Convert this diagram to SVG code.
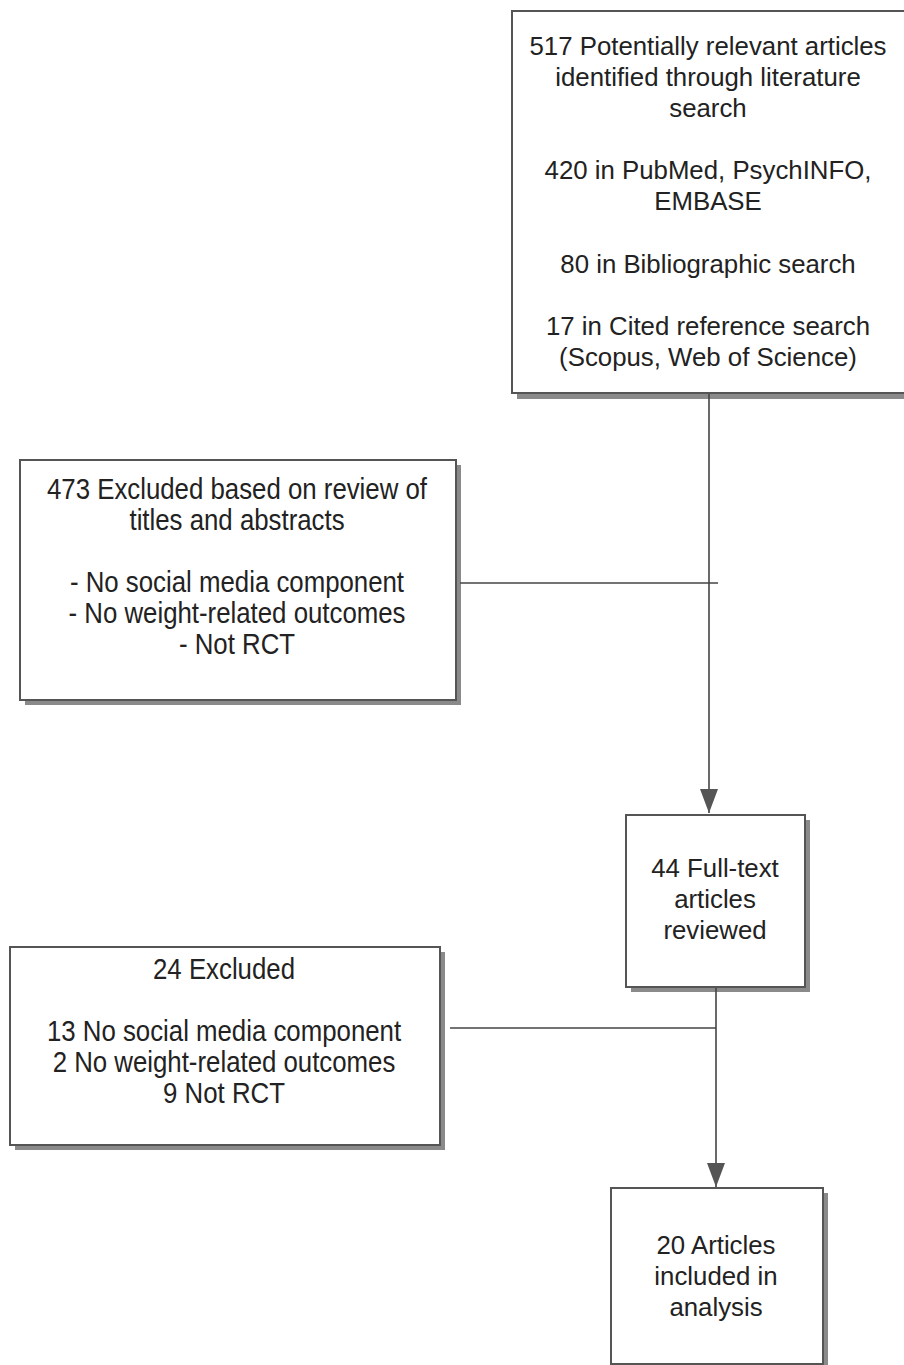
<svg xmlns="http://www.w3.org/2000/svg" width="904" height="1365" viewBox="0 0 904 1365">
<defs>
<marker id="arr" markerWidth="24" markerHeight="18" refX="24" refY="9" orient="auto" markerUnits="userSpaceOnUse" viewBox="0 0 24 18">
<path d="M0,0 L24,9 L0,18 Z" fill="#555"/>
</marker>
</defs>
<style>
.box{fill:#fff;stroke:#555;stroke-width:2}
.sh{fill:#8a8a8a}
.t{font-family:"Liberation Sans",Arial,sans-serif;font-size:25.8px;fill:#222;text-anchor:middle}
.n{font-family:"Liberation Sans",Arial,sans-serif;font-size:29px;fill:#222;text-anchor:middle}
.c{stroke:#444;stroke-width:1.6;fill:none}
</style>
<rect width="904" height="1365" fill="#fff"/>
<g id="n1">
<rect class="sh" x="517" y="16" width="392" height="383"/>
<rect class="box" x="512" y="11" width="394" height="382"/>
<text class="t" x="708" y="55">517 Potentially relevant articles</text>
<text class="t" x="708" y="86">identified through literature</text>
<text class="t" x="708" y="117">search</text>
<text class="t" x="708" y="179">420 in PubMed, PsychINFO,</text>
<text class="t" x="708" y="210">EMBASE</text>
<text class="t" x="708" y="273">80 in Bibliographic search</text>
<text class="t" x="708" y="335">17 in Cited reference search</text>
<text class="t" x="708" y="366">(Scopus, Web of Science)</text>
</g>
<g id="n2">
<rect class="sh" x="25" y="465" width="436" height="240"/>
<rect class="box" x="20" y="460" width="436" height="240"/>
<g transform="translate(237,0) scale(0.89,1)">
<text class="n" x="0" y="499">473 Excluded based on review of</text>
<text class="n" x="0" y="530">titles and abstracts</text>
<text class="n" x="0" y="592">- No social media component</text>
<text class="n" x="0" y="623">- No weight-related outcomes</text>
<text class="n" x="0" y="654">- Not RCT</text>
</g>
</g>
<g id="n3">
<rect class="sh" x="631" y="820" width="179" height="172"/>
<rect class="box" x="626" y="815" width="179" height="172"/>
<text class="t" x="715" y="877">44 Full-text</text>
<text class="t" x="715" y="908">articles</text>
<text class="t" x="715" y="939">reviewed</text>
</g>
<g id="n4">
<rect class="sh" x="15" y="952" width="430" height="198"/>
<rect class="box" x="10" y="947" width="430" height="198"/>
<g transform="translate(224,0) scale(0.89,1)">
<text class="n" x="0" y="979">24 Excluded</text>
<text class="n" x="0" y="1041">13 No social media component</text>
<text class="n" x="0" y="1072">2 No weight-related outcomes</text>
<text class="n" x="0" y="1103">9 Not RCT</text>
</g>
</g>
<g id="n5">
<rect class="sh" x="616" y="1193" width="212" height="180"/>
<rect class="box" x="611" y="1188" width="212" height="176"/>
<text class="t" x="716" y="1254">20 Articles</text>
<text class="t" x="716" y="1285">included in</text>
<text class="t" x="716" y="1316">analysis</text>
</g>
<g id="connectors">
<line class="c" x1="709" y1="394" x2="709" y2="813" marker-end="url(#arr)"/>
<line class="c" x1="718" y1="583" x2="460" y2="583"/>
<line class="c" x1="716" y1="988" x2="716" y2="1187" marker-end="url(#arr)"/>
<line class="c" x1="716" y1="1028" x2="450" y2="1028"/>
</g>
</svg>
